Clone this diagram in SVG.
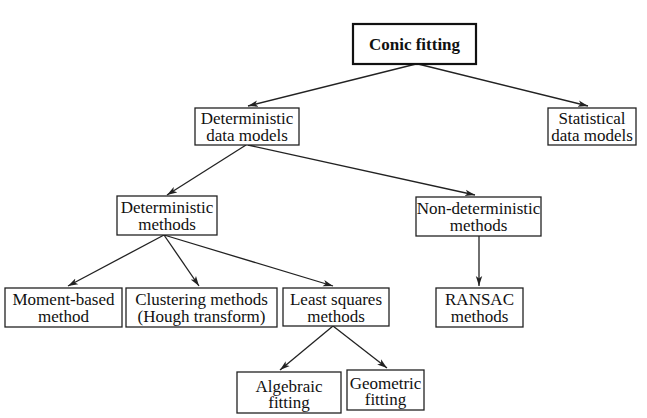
<svg xmlns="http://www.w3.org/2000/svg" width="647" height="418" viewBox="0 0 647 418">
<style>
.box{fill:#fff;stroke:#222;stroke-width:1.3}
.root{fill:#fff;stroke:#111;stroke-width:2.2}
text{font-family:'Liberation Serif','Times New Roman','DejaVu Serif',serif;font-size:17px;fill:#111;text-anchor:middle}
.b{font-weight:bold}
.c line{stroke:#222;stroke-width:1.3;marker-end:url(#ah)}
</style>
<defs>
<marker id="ah" markerUnits="userSpaceOnUse" markerWidth="12" markerHeight="8" refX="10" refY="4" orient="auto">
<path d="M0,0.8 L10,4 L0,7.2 L2.5,4 Z" fill="#222"/>
</marker>
</defs>
<rect width="647" height="418" fill="#fff"/>
<g class="c" id="connectors">
<line x1="416" y1="64" x2="248" y2="106"/>
<line x1="418" y1="64" x2="588" y2="106"/>
<line x1="246" y1="145" x2="167" y2="195"/>
<line x1="248" y1="145" x2="475" y2="195"/>
<line x1="164" y1="235" x2="68" y2="286"/>
<line x1="164" y1="235" x2="199" y2="286"/>
<line x1="164" y1="235" x2="333" y2="286"/>
<line x1="479" y1="236" x2="479" y2="286"/>
<line x1="333" y1="326" x2="280" y2="370"/>
<line x1="333" y1="326" x2="387" y2="368"/>
</g>
<g id="conic"><rect class="root" x="353" y="24" width="123" height="40"/><text class="b" x="414.5" y="49.5">Conic fitting</text></g>
<g id="ddm"><rect class="box" x="195" y="108" width="104" height="37"/><text x="247" y="124">Deterministic</text><text x="247" y="141">data models</text></g>
<g id="sdm"><rect class="box" x="548" y="108" width="88" height="37"/><text x="592" y="124">Statistical</text><text x="592" y="141">data models</text></g>
<g id="dm"><rect class="box" x="117" y="196" width="100" height="39"/><text x="167" y="213">Deterministic</text><text x="167" y="230">methods</text></g>
<g id="ndm"><rect class="box" x="416" y="197" width="125" height="39"/><text x="478.5" y="214">Non-deterministic</text><text x="478.5" y="231">methods</text></g>
<g id="mbm"><rect class="box" x="5" y="288" width="117" height="39"/><text x="63.5" y="305">Moment-based</text><text x="63.5" y="322">method</text></g>
<g id="clus"><rect class="box" x="126" y="288" width="151" height="39"/><text x="201.5" y="305">Clustering methods</text><text x="201.5" y="322">(Hough transform)</text></g>
<g id="ls"><rect class="box" x="283" y="288" width="106" height="38"/><text x="336" y="305">Least squares</text><text x="336" y="322">methods</text></g>
<g id="ransac"><rect class="box" x="436" y="288" width="87" height="39"/><text x="479.5" y="305">RANSAC</text><text x="479.5" y="322">methods</text></g>
<g id="alg"><rect class="box" x="237" y="372" width="104" height="41"/><text x="289" y="392">Algebraic</text><text x="289" y="408">fitting</text></g>
<g id="geo"><rect class="box" x="347" y="370" width="77" height="40"/><text x="385.5" y="389">Geometric</text><text x="385.5" y="405">fitting</text></g>
</svg>
